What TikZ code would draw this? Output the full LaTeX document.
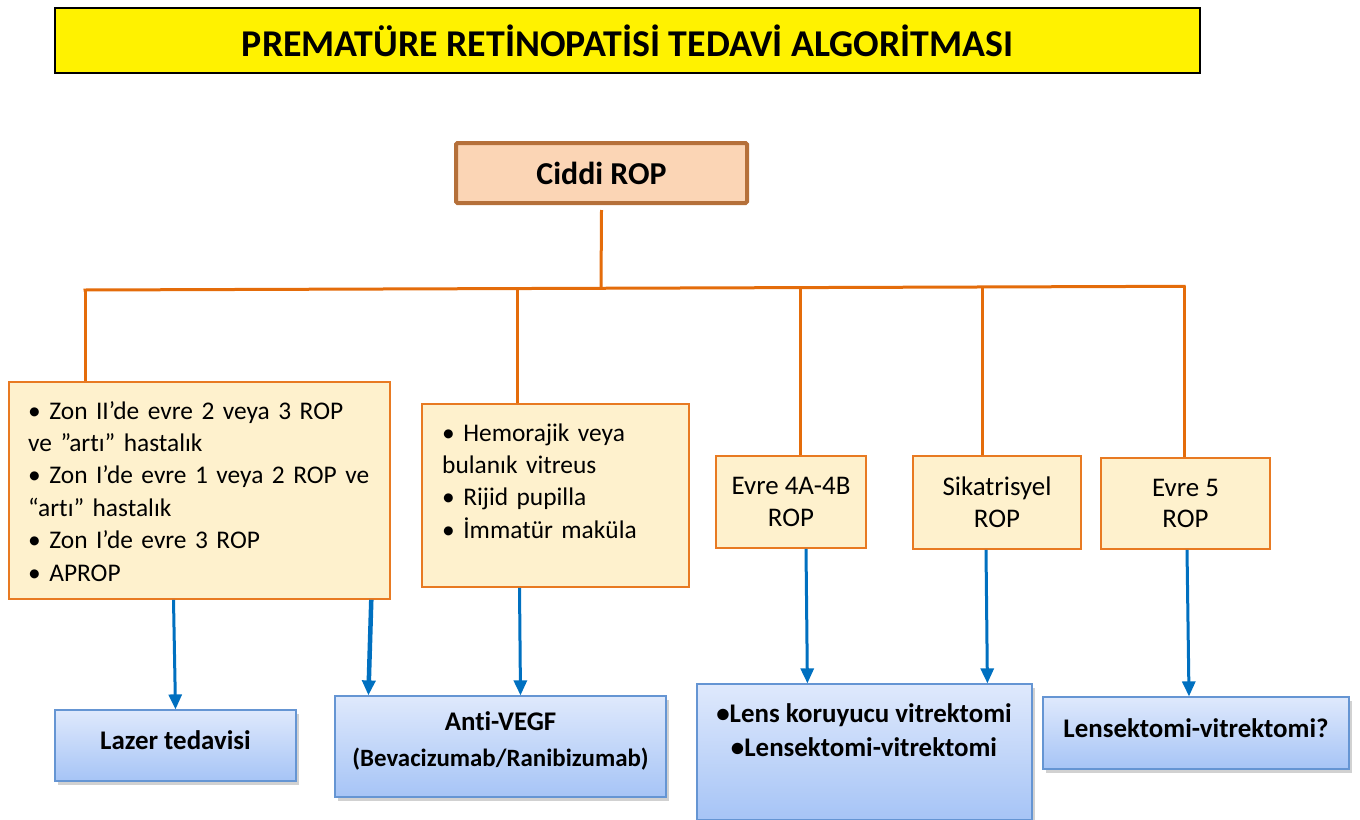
\documentclass[tikz,border=0pt]{standalone}
\usepackage{fontspec}
\setmainfont[Ligatures=NoCommon]{Carlito}
\usetikzlibrary{arrows.meta,shadows,calc}
\definecolor{orline}{HTML}{E46C0A}
\definecolor{orbox}{HTML}{E87A22}
\definecolor{orfill}{HTML}{FEF1CD}
\definecolor{brownb}{HTML}{B5703A}
\definecolor{peach}{HTML}{FBD5B5}
\definecolor{bluearr}{HTML}{0070C0}
\definecolor{bltop}{HTML}{DFE9FC}
\definecolor{blbot}{HTML}{A6C4F6}
\definecolor{blbord}{HTML}{6595D3}
\begin{document}
\begin{tikzpicture}[x=1bp,y=-1bp,
  titlebox/.style={draw=black, line width=1.5bp, fill=yellow, minimum width=1145bp, minimum height=65bp, inner sep=0pt,
    font=\fontsize{38}{42}\selectfont\bfseries},
  topbox/.style={draw=brownb, line width=4bp, fill=peach, rounded corners=1.5bp, minimum width=291bp, minimum height=60bp, inner sep=0pt,
    font=\fontsize{32}{36}\selectfont\bfseries},
  obox/.style={draw=orbox, line width=1.6bp, fill=orfill, inner sep=0pt},
  otext/.style={font=\fontsize{25.5}{32.6}\selectfont, inner sep=0pt, align=left},
  ctext/.style={font=\fontsize{27}{32}\selectfont, inner sep=0pt, align=center},
  bbox/.style={draw=blbord, line width=1.2bp, top color=bltop, bottom color=blbot, inner sep=0pt,
    drop shadow={shadow xshift=3bp, shadow yshift=-4bp, opacity=0.3, fill=black!60}},
  btext/.style={font=\fontsize{27}{34}\selectfont\bfseries, inner sep=0pt, align=center},
  oline/.style={draw=orline, line width=3bp},
  barr/.style={draw=bluearr, line width=3bp, -{Triangle[length=15bp,width=13bp]}},
]
\useasboundingbox (0,0) rectangle (1360,819);

% title
\node[titlebox] (title) at (627.5,40.5) {PREMATÜRE RETİNOPATİSİ TEDAVİ ALGORİTMASI};

% root
\node[topbox] (root) at (601.5,173) {Ciddi ROP};

% orange boxes
\node[obox, minimum width=381bp, minimum height=217bp] (b1) at (199.5,490.5) {};
\node[otext, anchor=base west, text width=370bp] (b1t) at (28,419)
 {• Zon II’de evre 2 veya 3 ROP\\ve ”artı” hastalık\\• Zon I’de evre 1 veya 2 ROP ve\\“artı” hastalık\\• Zon I’de evre 3 ROP\\• APROP};

\node[obox, minimum width=267bp, minimum height=183bp] (b2) at (555.5,495.5) {};
\node[otext, anchor=base west, text width=250bp] (b2t) at (442,441)
 {• Hemorajik veya\\bulanık vitreus\\• Rijid pupilla\\• İmmatür maküla};

\node[obox, ctext, minimum width=150bp, minimum height=92bp] (b3) at (791,502) {Evre 4A-4B\\ROP};
\node[obox, ctext, minimum width=168bp, minimum height=93bp] (b4) at (997,502.5) {Sikatrisyel\\ROP};
\node[obox, ctext, minimum width=169bp, minimum height=91bp] (b5) at (1185.5,503.5) {Evre 5\\ROP};

% bus
\coordinate (j1) at (85,290);
\coordinate (j2) at (517,288.6);
\coordinate (jr) at (601,288.3);
\coordinate (j3) at (800,287.6);
\coordinate (j4) at (982,287);
\coordinate (j5) at (1184,286.3);
\draw[oline] ([yshift=-5bp]root.south) -- (jr);
\draw[oline, line cap=rect] (j1) -- (j5);
\draw[oline] (j1) -- (j1 |- b1.north);
\draw[oline] (j2) -- (j2 |- b2.north);
\draw[oline] (j3) -- (j3 |- b3.north);
\draw[oline] (j4) -- (j4 |- b4.north);
\draw[oline] (j5) -- (j5 |- b5.north);

% blue boxes
\node[bbox, minimum width=241bp, minimum height=71bp] (laz) at (175.5,745.5) {};
\node[btext] (lazt) at (175.5,740) {Lazer tedavisi};
\node[bbox, minimum width=331bp, minimum height=101bp] (avg) at (500.5,746.5) {};
\node[btext] (avgt1) at (500.5,721) {Anti-VEGF};
\node[btext, font=\fontsize{25}{28}\selectfont\bfseries] (avgt2) at (500.5,759) {(Bevacizumab/Ranibizumab)};
\node[bbox, minimum width=335bp, minimum height=136bp] (lens) at (864.5,752) {};
\node[btext] (lenst) at (864,730) {•Lens koruyucu vitrektomi\\•Lensektomi-vitrektomi};
\node[bbox, minimum width=306bp, minimum height=72bp] (lsk) at (1196,733) {};
\node[btext] (lskt) at (1196,728) {Lensektomi-vitrektomi?};

% arrows
\draw[barr] ([xshift=-2bp]b1.south -| laz.north) -- (laz.north);
\draw[barr, line width=4.5bp] ($(b1.south west)!0.949!(b1.south east)$) -- ([xshift=34bp]avg.north west);
\draw[barr] ([xshift=-36bp]b2.south) -- ([xshift=20bp]avg.north);
\draw[barr] ([xshift=15bp]b3.south) -- ([xshift=111bp]lens.north west);
\draw[barr] ([xshift=-11bp]b4.south) -- ([xshift=291bp]lens.north west);
\draw[barr] ([xshift=1.5bp]b5.south) -- ([xshift=-7bp]lsk.north);
\end{tikzpicture}
\end{document}
